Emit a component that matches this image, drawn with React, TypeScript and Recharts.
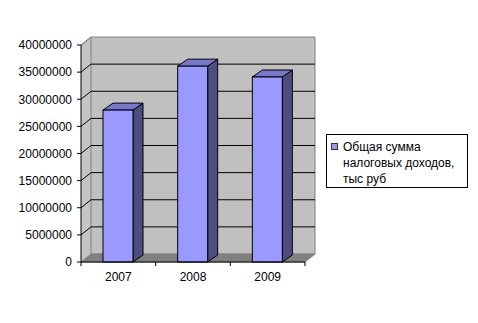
import React from "react";
import { BarChart, Bar, XAxis, YAxis, CartesianGrid, Legend } from "recharts";

const years = ["2007", "2008", "2009"];
const taxIncome = [28000000, 36100000, 34100000];
const yTicks = [0, 5000000, 10000000, 15000000, 20000000, 25000000, 30000000, 35000000, 40000000];
const seriesName = "Общая сумма налоговых доходов, тыс руб";
const legendLines = ["Общая сумма", "налоговых доходов,", "тыс руб"];

const data = years.map((year, i) => ({ year, value: taxIncome[i] }));

const DX = 10;
const DY = 8;
const FONT = "'Liberation Sans', Arial, sans-serif";

const GridLine = (props: any) => {
  const { x1, x2, y1, index } = props;
  const top = props.y ?? 45;
  const bottom = (props.y ?? 45) + (props.height ?? 217);
  const isBottom = Math.abs(y1 - bottom) < 0.5;
  const isTop = Math.abs(y1 - top) < 0.5;
  return (
    <g key={`gl-${index}`}>
      {index === 0 && (
        <g>
          {/* left wall */}
          <polygon
            points={`${x1},${top} ${x1 + DX},${top - DY} ${x1 + DX},${bottom - DY} ${x1},${bottom}`}
            fill="#c4c4c4"
          />
          {/* back wall */}
          <polygon
            points={`${x1 + DX},${top - DY} ${x2 + DX},${top - DY} ${x2 + DX},${bottom - DY} ${x1 + DX},${bottom - DY}`}
            fill="#c0c0c0"
            stroke="#808080"
          />
          {/* floor */}
          <polygon
            points={`${x1},${bottom} ${x2},${bottom} ${x2 + DX},${bottom - DY} ${x1 + DX},${bottom - DY}`}
            fill="#808080"
            stroke="#808080"
          />
        </g>
      )}
      {!isBottom && (
        <line x1={x1} y1={y1} x2={x1 + DX} y2={y1 - DY} stroke={isTop ? "#606060" : "#000"} />
      )}
      {!isBottom && !isTop && (
        <line x1={x1 + DX} y1={y1 - DY} x2={x2 + DX} y2={y1 - DY} stroke="#000" />
      )}
    </g>
  );
};

const Box3D = (props: any) => {
  const { x, y, width, height } = props;
  const dx = 10;
  const dy = 7;
  return (
    <g>
      <polygon
        points={`${x + width},${y} ${x + width + dx},${y - dy} ${x + width + dx},${y + height - dy} ${x + width},${y + height}`}
        fill="#4d4d80"
        stroke="#000"
      />
      <polygon
        points={`${x},${y} ${x + dx},${y - dy} ${x + width + dx},${y - dy} ${x + width},${y}`}
        fill="#7777cc"
        stroke="#000"
      />
      <rect x={x} y={y} width={width} height={height} fill="#9999ff" stroke="#000" />
    </g>
  );
};

const YearTick = (props: any) => {
  const { x, y, payload, index } = props;
  const half = payload?.offset ?? 37.33;
  const axisY = y - 4;
  return (
    <g>
      <line x1={x - half} y1={axisY} x2={x - half} y2={axisY + 4} stroke="#000" />
      {index === years.length - 1 && (
        <line x1={x + half} y1={axisY} x2={x + half} y2={axisY + 4} stroke="#000" />
      )}
      <text x={x} y={axisY + 19} textAnchor="middle" fontSize={12} fontFamily={FONT} fill="#000">
        {payload.value}
      </text>
    </g>
  );
};

const LegendBox = () => (
  <div
    style={{
      position: "relative",
      boxSizing: "border-box",
      width: 142,
      height: 54,
      border: "1px solid #000",
      background: "#fff",
      padding: "4px 0 0 16px",
      fontFamily: FONT,
      fontSize: 12,
      lineHeight: "16px",
      color: "#000",
      whiteSpace: "nowrap",
    }}
  >
    <span
      style={{
        position: "absolute",
        left: 4,
        top: 8,
        width: 7,
        height: 7,
        boxSizing: "border-box",
        background: "#9999ff",
        border: "1px solid #333",
      }}
    />
    {legendLines.map((l) => (
      <div key={l}>{l}</div>
    ))}
  </div>
);

export default function App() {
  return (
    <div style={{ position: "absolute", left: 0, top: 0, width: 478, height: 323, background: "#fff" }}>
      <BarChart
        width={478}
        height={323}
        data={data}
        margin={{ top: 45, right: 173, left: 0, bottom: 31 }}
        barSize={30}
      >
        <CartesianGrid vertical={false} horizontal={GridLine} />
        <XAxis
          dataKey="year"
          height={30}
          tickLine={false}
          tickSize={4}
          tickMargin={0}
          axisLine={{ stroke: "#000" }}
          tick={<YearTick />}
          interval={0}
        />
        <YAxis
          width={81}
          domain={[0, 40000000]}
          ticks={yTicks}
          interval={0}
          tickSize={4}
          tickMargin={5}
          axisLine={{ stroke: "#000" }}
          tickLine={{ stroke: "#000" }}
          tick={{ fill: "#000", fontSize: 12, fontFamily: FONT }}
        />
        <Legend
          layout="horizontal"
          align="center"
          verticalAlign="middle"
          content={() => <LegendBox />}
          wrapperStyle={{ left: 326, top: 134, width: 142, height: 54 }}
        />
        <Bar dataKey="value" name={seriesName} shape={<Box3D />} isAnimationActive={false} />
      </BarChart>
    </div>
  );
}
